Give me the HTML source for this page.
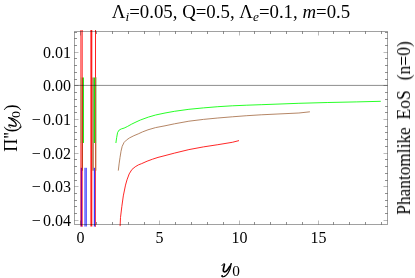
<!DOCTYPE html>
<html><head><meta charset="utf-8"><title>plot</title>
<style>
html,body{margin:0;padding:0;background:#fff;}
body{width:415px;height:278px;overflow:hidden;}
svg{display:block;}
text{font-family:"Liberation Serif",serif;fill:#000;}
.i{font-style:italic;}
</style></head><body>
<svg width="415" height="278" viewBox="0 0 415 278">
<defs><linearGradient id="bg" x1="0" y1="0" x2="1" y2="0"><stop offset="0" stop-color="#9c9cff"/><stop offset="1" stop-color="#5a5aff"/></linearGradient></defs>
<rect x="0" y="0" width="415" height="278" fill="#fff"/>
<polyline points="120.1,226.1 120.5,217.5 121.8,206.7 123.3,195.9 125.5,185.1 127.0,179.8 129.2,173.9 131.9,169.5 135.2,166.8 138.4,164.9 141.7,163.6 147.1,161.2 152.5,159.2 158.0,157.4 165.0,155.6 174.5,153.1 188.9,149.6 203.4,146.9 217.8,144.7 232.3,142.3 239.0,140.6" fill="none" stroke="#ff0000" stroke-width="0.85" stroke-linejoin="round"/>
<polyline points="118.3,170.6 119.1,163.9 120.0,157.6 121.0,151.3 122.2,146.3 124.1,142.4 126.4,140.1 129.5,137.9 133.9,135.7 138.2,133.9 142.5,131.9 148.0,129.8 155.6,127.6 165.0,125.8 174.5,123.8 188.9,121.2 203.4,119.4 217.8,118.0 232.3,116.8 246.8,115.7 261.2,114.8 280.0,113.9 298.9,113.0 309.9,111.8" fill="none" stroke="#a8704a" stroke-width="0.85" stroke-linejoin="round"/>
<polyline points="115.9,143.0 116.3,140.0 116.7,137.4 117.6,132.5 119.2,130.0 121.4,128.9 124.1,128.1 127.4,126.5 131.7,124.1 136.0,122.0 140.4,120.0 148.4,117.1 155.6,115.0 165.0,113.0 174.5,111.3 188.9,109.3 203.4,107.9 217.8,106.7 232.3,105.8 246.8,105.2 261.2,104.7 280.0,104.0 298.9,103.3 327.8,102.5 356.8,101.9 380.8,101.3" fill="none" stroke="#00ff00" stroke-width="0.85" stroke-linejoin="round"/>
<g>
<rect x="80" y="30.0" width="3.00" height="196.50" fill="#ff7c7c"/>
<rect x="82" y="30.0" width="1.00" height="196.50" fill="#ff6a6a"/>
<rect x="90.4" y="30.0" width="1.90" height="196.50" fill="#ff1a1a"/>
<rect x="95" y="30.0" width="1.00" height="196.50" fill="#ff2020"/>
<rect x="80" y="77.5" width="1.80" height="65.50" fill="#cf9468"/>
<rect x="81.8" y="77.5" width="1.20" height="93.20" fill="#c8381a"/>
<rect x="92.3" y="77.5" width="1.50" height="93.20" fill="#ad7246"/>
<rect x="95" y="77.5" width="1.00" height="93.20" fill="#cc5a3a"/>
<rect x="96" y="77.5" width="1.00" height="93.20" fill="#e6cdb8"/>
<rect x="83" y="77.5" width="1.00" height="65.50" fill="#22ee22"/>
<rect x="93.8" y="77.5" width="1.20" height="65.50" fill="#10e810"/>
<rect x="96" y="77.5" width="1.00" height="65.50" fill="#b8e6a8"/>
<rect x="80.8" y="167.8" width="1.20" height="58.70" fill="#860092"/>
<rect x="84" y="167.8" width="3" height="58.70" fill="url(#bg)"/>
<rect x="93.8" y="167.8" width="1.20" height="58.70" fill="#3838ff"/>
<rect x="95" y="170.7" width="1.00" height="55.80" fill="#ea3a5c"/>
</g>
<g fill="none" stroke-width="1">
<path d="M80.5 224.5 v-4.0 M80.5 31.5 v4.0" stroke="#000" stroke-opacity="0.27"/>
<path d="M96.5 224.5 v-2.5 M96.5 31.5 v2.5" stroke="#000" stroke-opacity="0.44"/>
<path d="M112.5 224.5 v-2.5 M112.5 31.5 v2.5" stroke="#000" stroke-opacity="0.44"/>
<path d="M128.5 224.5 v-2.5 M128.5 31.5 v2.5" stroke="#000" stroke-opacity="0.44"/>
<path d="M144.5 224.5 v-2.5 M144.5 31.5 v2.5" stroke="#000" stroke-opacity="0.44"/>
<path d="M159.5 224.5 v-4.0 M159.5 31.5 v4.0" stroke="#000" stroke-opacity="0.27"/>
<path d="M175.5 224.5 v-2.5 M175.5 31.5 v2.5" stroke="#000" stroke-opacity="0.44"/>
<path d="M191.5 224.5 v-2.5 M191.5 31.5 v2.5" stroke="#000" stroke-opacity="0.44"/>
<path d="M207.5 224.5 v-2.5 M207.5 31.5 v2.5" stroke="#000" stroke-opacity="0.44"/>
<path d="M223.5 224.5 v-2.5 M223.5 31.5 v2.5" stroke="#000" stroke-opacity="0.44"/>
<path d="M239.5 224.5 v-4.0 M239.5 31.5 v4.0" stroke="#000" stroke-opacity="0.27"/>
<path d="M254.5 224.5 v-2.5 M254.5 31.5 v2.5" stroke="#000" stroke-opacity="0.44"/>
<path d="M270.5 224.5 v-2.5 M270.5 31.5 v2.5" stroke="#000" stroke-opacity="0.44"/>
<path d="M286.5 224.5 v-2.5 M286.5 31.5 v2.5" stroke="#000" stroke-opacity="0.44"/>
<path d="M302.5 224.5 v-2.5 M302.5 31.5 v2.5" stroke="#000" stroke-opacity="0.44"/>
<path d="M318.5 224.5 v-4.0 M318.5 31.5 v4.0" stroke="#000" stroke-opacity="0.27"/>
<path d="M333.5 224.5 v-2.5 M333.5 31.5 v2.5" stroke="#000" stroke-opacity="0.44"/>
<path d="M349.5 224.5 v-2.5 M349.5 31.5 v2.5" stroke="#000" stroke-opacity="0.44"/>
<path d="M365.5 224.5 v-2.5 M365.5 31.5 v2.5" stroke="#000" stroke-opacity="0.44"/>
<path d="M381.5 224.5 v-2.5 M381.5 31.5 v2.5" stroke="#000" stroke-opacity="0.44"/>
<path d="M74.5 32.5 h2.5 M387.5 32.5 h-2.5" stroke="#000" stroke-opacity="0.44"/>
<path d="M74.5 38.5 h2.5 M387.5 38.5 h-2.5" stroke="#000" stroke-opacity="0.44"/>
<path d="M74.5 45.5 h2.5 M387.5 45.5 h-2.5" stroke="#000" stroke-opacity="0.44"/>
<path d="M74.5 52.5 h4.0 M387.5 52.5 h-4.0" stroke="#000" stroke-opacity="0.27"/>
<path d="M74.5 58.5 h2.5 M387.5 58.5 h-2.5" stroke="#000" stroke-opacity="0.44"/>
<path d="M74.5 65.5 h2.5 M387.5 65.5 h-2.5" stroke="#000" stroke-opacity="0.44"/>
<path d="M74.5 72.5 h2.5 M387.5 72.5 h-2.5" stroke="#000" stroke-opacity="0.44"/>
<path d="M74.5 79.5 h2.5 M387.5 79.5 h-2.5" stroke="#000" stroke-opacity="0.44"/>
<path d="M74.5 85.5 h4.0 M387.5 85.5 h-4.0" stroke="#000" stroke-opacity="0.27"/>
<path d="M74.5 92.5 h2.5 M387.5 92.5 h-2.5" stroke="#000" stroke-opacity="0.44"/>
<path d="M74.5 99.5 h2.5 M387.5 99.5 h-2.5" stroke="#000" stroke-opacity="0.44"/>
<path d="M74.5 106.5 h2.5 M387.5 106.5 h-2.5" stroke="#000" stroke-opacity="0.44"/>
<path d="M74.5 112.5 h2.5 M387.5 112.5 h-2.5" stroke="#000" stroke-opacity="0.44"/>
<path d="M74.5 119.5 h4.0 M387.5 119.5 h-4.0" stroke="#000" stroke-opacity="0.27"/>
<path d="M74.5 126.5 h2.5 M387.5 126.5 h-2.5" stroke="#000" stroke-opacity="0.44"/>
<path d="M74.5 132.5 h2.5 M387.5 132.5 h-2.5" stroke="#000" stroke-opacity="0.44"/>
<path d="M74.5 139.5 h2.5 M387.5 139.5 h-2.5" stroke="#000" stroke-opacity="0.44"/>
<path d="M74.5 146.5 h2.5 M387.5 146.5 h-2.5" stroke="#000" stroke-opacity="0.44"/>
<path d="M74.5 153.5 h4.0 M387.5 153.5 h-4.0" stroke="#000" stroke-opacity="0.27"/>
<path d="M74.5 159.5 h2.5 M387.5 159.5 h-2.5" stroke="#000" stroke-opacity="0.44"/>
<path d="M74.5 166.5 h2.5 M387.5 166.5 h-2.5" stroke="#000" stroke-opacity="0.44"/>
<path d="M74.5 173.5 h2.5 M387.5 173.5 h-2.5" stroke="#000" stroke-opacity="0.44"/>
<path d="M74.5 180.5 h2.5 M387.5 180.5 h-2.5" stroke="#000" stroke-opacity="0.44"/>
<path d="M74.5 186.5 h4.0 M387.5 186.5 h-4.0" stroke="#000" stroke-opacity="0.27"/>
<path d="M74.5 193.5 h2.5 M387.5 193.5 h-2.5" stroke="#000" stroke-opacity="0.44"/>
<path d="M74.5 200.5 h2.5 M387.5 200.5 h-2.5" stroke="#000" stroke-opacity="0.44"/>
<path d="M74.5 206.5 h2.5 M387.5 206.5 h-2.5" stroke="#000" stroke-opacity="0.44"/>
<path d="M74.5 213.5 h2.5 M387.5 213.5 h-2.5" stroke="#000" stroke-opacity="0.44"/>
<path d="M74.5 220.5 h4.0 M387.5 220.5 h-4.0" stroke="#000" stroke-opacity="0.27"/>
</g>
<path d="M74.5 85.4 H387.5" stroke="#000" stroke-opacity="0.45" stroke-width="1" fill="none"/>
<rect x="74.5" y="31.5" width="313.0" height="193.0" fill="none" stroke="#000" stroke-opacity="0.37" stroke-width="1"/>
<g style="will-change:opacity" opacity="0.999">
<text x="80.6" y="243" font-size="16" text-anchor="middle">0</text>
<text x="159.6" y="243" font-size="16" text-anchor="middle">5</text>
<text x="239.6" y="243" font-size="16" text-anchor="middle">10</text>
<text x="318.6" y="243" font-size="16" text-anchor="middle">15</text>
<text x="70.9" y="57.8" font-size="16" text-anchor="end">0.01</text>
<text x="70.9" y="90.8" font-size="16" text-anchor="end">0.00</text>
<text x="70.9" y="124.8" font-size="16" text-anchor="end">0.01</text>
<text x="31.8" y="124.8" font-size="16">−</text>
<text x="70.9" y="158.8" font-size="16" text-anchor="end">0.02</text>
<text x="31.8" y="158.8" font-size="16">−</text>
<text x="70.9" y="191.8" font-size="16" text-anchor="end">0.03</text>
<text x="31.8" y="191.8" font-size="16">−</text>
<text x="70.9" y="225.8" font-size="16" text-anchor="end">0.04</text>
<text x="31.8" y="225.8" font-size="16">−</text>
<g transform="translate(231,17.6) scale(1.046,1)"><text x="0" y="0" font-size="18" text-anchor="middle">Λ<tspan class="i" font-size="12.8" dy="3.1">i</tspan><tspan dy="-3.1">=0.05, Q=0.5, Λ</tspan><tspan class="i" font-size="12.8" dy="3.1">e</tspan><tspan dy="-3.1">=0.1, </tspan><tspan class="i">m</tspan>=0.5</text></g>
<g transform="translate(221.4,272.5)"><g fill="none" stroke="#000" stroke-linecap="round" stroke-linejoin="round"><path d="M3.0,-8.2 C2.8,-6.5 2.0,-4.0 1.9,-2.3 C1.8,-0.9 2.8,-0.5 3.8,-0.8 C5.4,-1.3 7.0,-3.7 8.2,-5.9" stroke-width="1.7"/><path d="M0.5,-6.9 C1.0,-8.2 2.0,-8.9 3.0,-8.5" stroke-width="0.9"/><path d="M8.2,-5.9 L9.8,-8.9" stroke-width="1.0"/><path d="M9.8,-8.9 C9.5,-6.0 8.4,-2.5 6.8,0.2 C5.4,2.5 3.4,4.1 1.8,4.3 C0.9,4.4 0.3,4.0 0.4,3.3" stroke-width="1.15"/><circle cx="0.9" cy="3.4" r="0.8" fill="#000" stroke="none"/></g></g>
<text x="232.2" y="276.3" font-size="15.3">0</text>
<g transform="translate(16.9,151.9) rotate(-90)"><text x="0.2" y="0" font-size="18">Π</text><text x="13.4" y="0" font-size="18">'</text><text x="16.4" y="0" font-size="18">'</text><text x="19.6" y="0" font-size="18">(</text><g transform="translate(23.7,0) scale(1.08,0.95)"><g fill="none" stroke="#000" stroke-linecap="round" stroke-linejoin="round"><path d="M3.0,-8.2 C2.8,-6.5 2.0,-4.0 1.9,-2.3 C1.8,-0.9 2.8,-0.5 3.8,-0.8 C5.4,-1.3 7.0,-3.7 8.2,-5.9" stroke-width="1.3"/><path d="M0.5,-6.9 C1.0,-8.2 2.0,-8.9 3.0,-8.5" stroke-width="0.8"/><path d="M8.2,-5.9 L9.8,-8.9" stroke-width="0.85"/><path d="M9.8,-8.9 C9.5,-6.0 8.4,-2.5 6.8,0.2 C5.4,2.5 3.4,4.1 1.8,4.3 C0.9,4.4 0.3,4.0 0.4,3.3" stroke-width="0.95"/><circle cx="0.9" cy="3.4" r="0.65" fill="#000" stroke="none"/></g></g><g transform="translate(33.9,3.1) scale(1.06,1)"><text x="0" y="0" font-size="13.4">0</text></g><text x="41.4" y="0" font-size="18">)</text></g>
<g transform="translate(410,214.3) rotate(-90)"><g transform="translate(-0.5,0) scale(0.963,1)"><text x="0" y="0" font-size="18">Phantomlike</text></g><g transform="translate(94.8,0) scale(0.975,1)"><text x="0" y="0" font-size="18">EoS</text></g><g transform="translate(134.0,0) scale(0.975,1)"><text x="0" y="0" font-size="18">(n=0)</text></g></g>
</g>
</svg>
</body></html>
